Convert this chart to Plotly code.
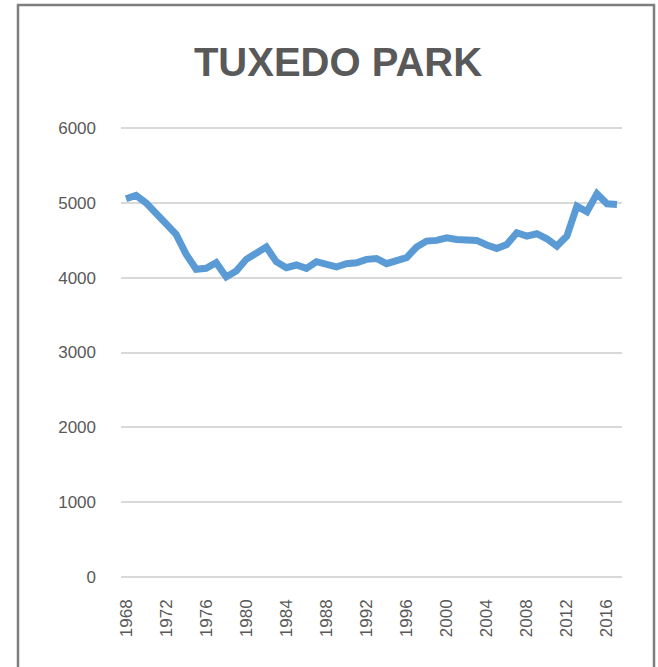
import plotly.graph_objects as go

years = list(range(1968, 2018))
population = [
    5055, 5100, 5000, 4867, 4733, 4578, 4312, 4112, 4125, 4200,
    4010, 4090, 4245, 4333, 4409, 4213, 4133, 4169, 4125, 4213,
    4187, 4143, 4187, 4200, 4245, 4256, 4187, 4230, 4267, 4409,
    4489, 4498, 4533, 4511, 4498, 4498, 4436, 4391, 4444, 4600,
    4556, 4587, 4520, 4422, 4556, 4956, 4880, 5120, 4987, 4978,
]
x_tick_years = list(range(1968, 2017, 4))
y_ticks = [0, 1000, 2000, 3000, 4000, 5000, 6000]
title_text = "TUXEDO PARK"

fig = go.Figure()
fig.add_trace(go.Scatter(
    x=years, y=population, mode="lines",
    line=dict(color="#5B9BD5", width=7, shape="linear"),
    hoverinfo="x+y", showlegend=False,
))

tick_font = dict(family="Liberation Sans, Arial, sans-serif", size=17, color="#595959")
pad = 40.09  # ~3 px so the 0 and 6000 gridlines stay visible

fig.update_layout(
    width=658, height=667,
    margin=dict(l=121, r=36, t=125, b=87),
    paper_bgcolor="white", plot_bgcolor="white",
    title=dict(
        text="<b>" + title_text + "</b>",
        font=dict(family="Liberation Sans, Arial, sans-serif", size=40, color="#595959"),
        xref="container", x=338 / 658, xanchor="center",
        yref="container", y=1 - 62 / 667, yanchor="middle",
    ),
    xaxis=dict(
        range=[1967.5, 2017.5],
        tickvals=x_tick_years, ticktext=[str(v) for v in x_tick_years],
        tickangle=-90, showgrid=False, zeroline=False, showline=False,
        ticks="", ticklabelstandoff=15,
        tickfont=tick_font,
    ),
    yaxis=dict(
        range=[-pad, 6000 + pad], tickvals=y_ticks,
        showgrid=True, gridcolor="#D9D9D9", gridwidth=1.6,
        zeroline=False, showline=False, ticks="", ticklabelstandoff=24,
        tickfont=tick_font,
    ),
    shapes=[
        dict(type="rect", xref="paper", yref="paper",
             x0=(18 - 121) / 501, x1=(654 - 121) / 501,
             y0=(580 - 680) / 455, y1=(580 - 5) / 455,
             line=dict(color="#7F7F7F", width=2.5), fillcolor="rgba(0,0,0,0)",
             layer="below"),
    ],
)

fig.write_html("out.html", config={"displayModeBar": False},
               post_script="document.body.style.margin='0px';")
